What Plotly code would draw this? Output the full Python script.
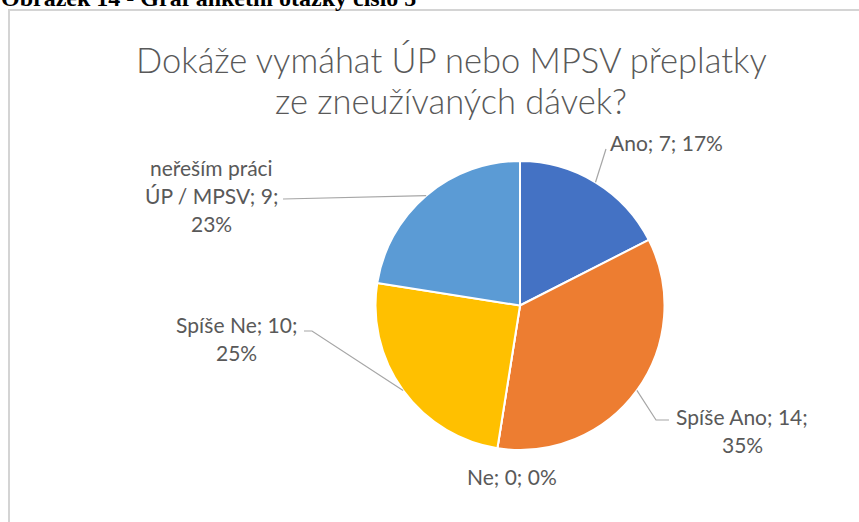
import math
import textwrap
import plotly.graph_objects as go

# ---- data ----
categories = ["Ano", "Spíše Ano", "Ne", "Spíše Ne", "neřeším práci ÚP / MPSV"]
values = [7, 14, 0, 10, 9]
percent_labels = ["17%", "35%", "0%", "25%", "23%"]
colors = ["#4472C4", "#ED7D31", "#A5A5A5", "#FFC000", "#5B9BD5"]

title_lines = ["Dokáže vymáhat ÚP nebo MPSV přeplatky", "ze zneužívaných dávek?"]
caption = "Obrázek 14 - Graf anketní otázky číslo 5"

W, H = 859, 522


def px(x):
    return x / W


def py(y):
    return 1 - y / H


# pie geometry (pixels)
CX, CY, R = 520, 305.5, 144.5

fig = go.Figure(
    go.Pie(
        labels=categories,
        values=values,
        sort=False,
        direction="clockwise",
        rotation=0,
        marker=dict(colors=colors, line=dict(color="white", width=2)),
        textinfo="none",
        hoverinfo="label+value+percent",
        showlegend=False,
        domain=dict(x=[px(CX - R), px(CX + R)], y=[py(CY + R), py(CY - R)]),
    )
)

total = sum(values)
cum = 0
mid_angles = []
for v in values:
    mid_angles.append((cum + v / 2) / total * 360)
    cum += v


def edge(i):
    a = math.radians(mid_angles[i])
    return CX + R * math.sin(a), CY - R * math.cos(a)


# label layout: wrap width (chars), block center x, first-line center y, leader path
label_layout = [
    dict(wrap=40, cx=666, cy=142, leader=lambda e: [(606, 149), e]),
    dict(wrap=14, cx=742, cy=416, leader=lambda e: [e, (656, 420), (669, 420)]),
    dict(wrap=40, cx=512, cy=476, leader=None),
    dict(wrap=13, cx=236, cy=324, leader=lambda e: [(304, 331), (312, 331), e]),
    dict(wrap=13, cx=211, cy=167, leader=lambda e: [(283, 199), e]),
]
LINE_H = 28

annotations = []
shapes = []
for i, cat in enumerate(categories):
    text = f"{cat}; {values[i]}; {percent_labels[i]}"
    lay = label_layout[i]
    lines = textwrap.wrap(text, lay["wrap"])
    for k, ln in enumerate(lines):
        annotations.append(
            dict(
                text=ln, x=px(lay["cx"]), y=py(lay["cy"] + k * LINE_H),
                xref="paper", yref="paper", xanchor="center", yanchor="middle",
                showarrow=False, font=dict(family="Lato", size=21, color="#595959"),
            )
        )
    if lay["leader"] is not None:
        pts = lay["leader"](edge(i))
        path = "M " + " L ".join(f"{px(x):.5f},{py(y):.5f}" for x, y in pts)
        shapes.append(dict(type="path", xref="paper", yref="paper", path=path,
                           line=dict(color="#A6A6A6", width=1.2)))

# title lines
for k, ln in enumerate(title_lines):
    annotations.append(
        dict(text=ln, x=px(451), y=py(60 + k * 40), xref="paper", yref="paper",
             xanchor="center", yanchor="middle", showarrow=False,
             font=dict(family="Lato", size=34.5, color="#595959", weight=300))
    )

# caption (partly cut by top edge)
annotations.append(
    dict(text=f"<b>{caption}</b>", x=px(-1), y=py(13), xref="paper", yref="paper",
         xanchor="left", yanchor="bottom", showarrow=False,
         font=dict(family="Liberation Serif", size=24, color="#000000"))
)

# chart frame
shapes.append(dict(type="path", xref="paper", yref="paper",
                   path=f"M {px(9):.5f},{py(530):.5f} L {px(9):.5f},{py(10):.5f} L {px(870):.5f},{py(10):.5f}",
                   line=dict(color="#D4D4D4", width=2)))

fig.update_layout(
    width=W, height=H,
    margin=dict(l=0, r=0, t=0, b=0),
    paper_bgcolor="white", plot_bgcolor="white",
    annotations=annotations, shapes=shapes,
    showlegend=False,
)

fig.write_html("out.html", config={"displayModeBar": False},
               post_script="document.body.style.margin='0';")
